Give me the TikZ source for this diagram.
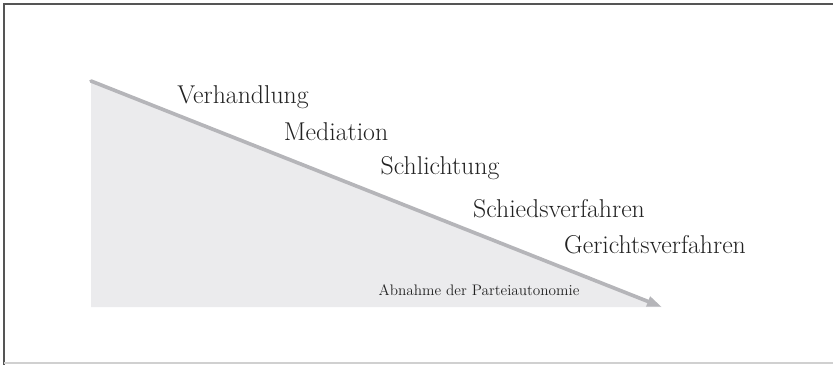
\documentclass[tikz,border=0pt]{standalone}
\usepackage{xcolor}
\usetikzlibrary{arrows.meta}
\definecolor{Frame}{HTML}{555555}
\definecolor{FrameLight}{HTML}{D0D0D0}
\definecolor{Wedge}{HTML}{EBEBED}
\definecolor{Slope}{HTML}{B5B5B9}
\definecolor{Ink}{HTML}{222222}

\begin{document}
\begin{tikzpicture}[x=0.03cm,y=-0.03cm,
  stage/.style={text=Ink,font=\fontsize{22}{26}\selectfont,inner sep=0pt},
  caption/.style={text=Ink,font=\fontsize{13}{16}\selectfont,inner sep=0pt},
  slope/.style={-{Triangle[length=4.5mm,width=3mm]},line width=1.1mm,color=Slope}
]
\useasboundingbox (0,0) rectangle (833,365);
\draw[Frame,line width=0.6mm] (833,4) -- (4,4) -- (4,365);
\draw[FrameLight,line width=0.5mm] (4,363) -- (833,363);
\coordinate (top) at (91,81);
\coordinate (base) at (91,307);
\coordinate (tip) at (662,307);
\fill[Wedge] (top) -- (tip) -- (base) -- cycle;
\draw[slope,line cap=round] (top) -- (tip);
\node[stage] (verh) at (243,97) {Verhandlung};
\node[stage] (med) at (336,132) {Mediation};
\node[stage] (schl) at (440,168) {Schlichtung};
\node[stage] (schied) at (559,209) {Schiedsverfahren};
\node[stage] (ger) at (655,245) {Gerichtsverfahren};
\node[caption] (abn) at (479,290) {Abnahme der Parteiautonomie};
\end{tikzpicture}
\end{document}
